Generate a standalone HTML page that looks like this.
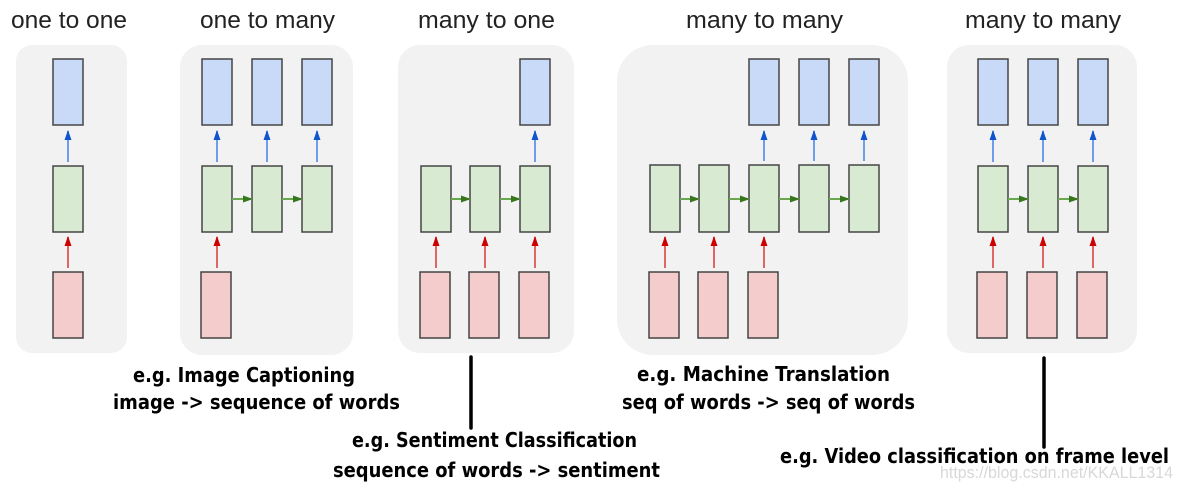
<!DOCTYPE html>
<html><head><meta charset="utf-8"><style>
html,body{margin:0;padding:0;background:#fff}
svg{display:block}
.t{font-family:"Liberation Sans",Arial,sans-serif;font-size:24px;fill:#222}
.b{font-family:"DejaVu Sans","Liberation Sans",sans-serif;font-weight:bold;font-size:20px;fill:#000}
.bl{fill:#c9daf8;stroke:#444;stroke-width:1.5}
.gr{fill:#d9ead3;stroke:#444;stroke-width:1.5}
.rd{fill:#f4cccc;stroke:#444;stroke-width:1.5}
.pa{fill:#f2f2f2}
</style></head><body>
<svg width="1181" height="493" viewBox="0 0 1181 493" xmlns="http://www.w3.org/2000/svg">
<defs>
<marker id="ab" markerWidth="10" markerHeight="8" refX="9" refY="4" orient="auto" markerUnits="userSpaceOnUse"><path d="M0,0.5 L10,4 L0,7.5 z" fill="#1155cc"/></marker>
<marker id="ar" markerWidth="10" markerHeight="8" refX="9" refY="4" orient="auto" markerUnits="userSpaceOnUse"><path d="M0,0.5 L10,4 L0,7.5 z" fill="#cc0000"/></marker>
<marker id="ag" markerWidth="10" markerHeight="8" refX="9" refY="4" orient="auto" markerUnits="userSpaceOnUse"><path d="M0,0.5 L10,4 L0,7.5 z" fill="#38761d"/></marker>
</defs>
<style>
.lb{stroke:#6d9eeb;stroke-width:2;fill:none}
.lr{stroke:#e06666;stroke-width:2;fill:none}
.lg{stroke:#6aa84f;stroke-width:2;fill:none}
</style>
<!-- titles -->
<text class="t" x="11" y="28" textLength="116" lengthAdjust="spacingAndGlyphs">one to one</text>
<text class="t" x="200" y="28" textLength="135" lengthAdjust="spacingAndGlyphs">one to many</text>
<text class="t" x="418" y="28" textLength="137" lengthAdjust="spacingAndGlyphs">many to one</text>
<text class="t" x="686" y="28" textLength="157" lengthAdjust="spacingAndGlyphs">many to many</text>
<text class="t" x="965" y="28" textLength="156" lengthAdjust="spacingAndGlyphs">many to many</text>
<!-- panels -->
<rect class="pa" x="16" y="45" width="111" height="308" rx="16"/>
<rect class="pa" x="180" y="45" width="173" height="310" rx="22"/>
<rect class="pa" x="398" y="45" width="176" height="308" rx="22"/>
<rect class="pa" x="617" y="45" width="291" height="310" rx="36"/>
<rect class="pa" x="947" y="45" width="190" height="308" rx="22"/>

<!-- panel 1 -->
<rect class="bl" x="53" y="59" width="30" height="66"/>
<rect class="gr" x="53" y="166" width="30" height="66"/>
<rect class="rd" x="53" y="272" width="30" height="66"/>
<line class="lb" x1="68" y1="162" x2="68" y2="131" marker-end="url(#ab)"/>
<line class="lr" x1="68" y1="268" x2="68" y2="237" marker-end="url(#ar)"/>

<!-- panel 2 -->
<rect class="bl" x="202" y="59" width="30" height="66"/>
<rect class="bl" x="252" y="59" width="30" height="66"/>
<rect class="bl" x="302" y="59" width="30" height="66"/>
<rect class="gr" x="202" y="166" width="30" height="66"/>
<rect class="gr" x="252" y="166" width="30" height="66"/>
<rect class="gr" x="302" y="166" width="30" height="66"/>
<rect class="rd" x="201" y="272" width="30" height="66"/>
<line class="lb" x1="217" y1="162" x2="217" y2="131" marker-end="url(#ab)"/>
<line class="lb" x1="267" y1="162" x2="267" y2="131" marker-end="url(#ab)"/>
<line class="lb" x1="317" y1="162" x2="317" y2="131" marker-end="url(#ab)"/>
<line class="lr" x1="217" y1="268" x2="217" y2="237" marker-end="url(#ar)"/>
<line class="lg" x1="232" y1="199" x2="252" y2="199" marker-end="url(#ag)"/>
<line class="lg" x1="282" y1="199" x2="302" y2="199" marker-end="url(#ag)"/>

<!-- panel 3 -->
<rect class="bl" x="520" y="59" width="30" height="66"/>
<rect class="gr" x="421" y="166" width="30" height="66"/>
<rect class="gr" x="470" y="166" width="30" height="66"/>
<rect class="gr" x="520" y="166" width="30" height="66"/>
<rect class="rd" x="420" y="272" width="30" height="66"/>
<rect class="rd" x="469" y="272" width="30" height="66"/>
<rect class="rd" x="519" y="272" width="30" height="66"/>
<line class="lb" x1="535" y1="162" x2="535" y2="131" marker-end="url(#ab)"/>
<line class="lr" x1="436" y1="268" x2="436" y2="237" marker-end="url(#ar)"/>
<line class="lr" x1="485" y1="268" x2="485" y2="237" marker-end="url(#ar)"/>
<line class="lr" x1="535" y1="268" x2="535" y2="237" marker-end="url(#ar)"/>
<line class="lg" x1="451" y1="199" x2="470" y2="199" marker-end="url(#ag)"/>
<line class="lg" x1="500" y1="199" x2="520" y2="199" marker-end="url(#ag)"/>

<!-- panel 4 -->
<rect class="bl" x="749" y="59" width="30" height="66"/>
<rect class="bl" x="799" y="59" width="30" height="66"/>
<rect class="bl" x="849" y="59" width="30" height="66"/>
<rect class="gr" x="650" y="165" width="30" height="67"/>
<rect class="gr" x="699" y="165" width="30" height="67"/>
<rect class="gr" x="749" y="165" width="30" height="67"/>
<rect class="gr" x="799" y="165" width="30" height="67"/>
<rect class="gr" x="849" y="165" width="30" height="67"/>
<rect class="rd" x="649" y="272" width="30" height="66"/>
<rect class="rd" x="698" y="272" width="30" height="66"/>
<rect class="rd" x="748" y="272" width="30" height="66"/>
<line class="lb" x1="764" y1="161" x2="764" y2="131" marker-end="url(#ab)"/>
<line class="lb" x1="814" y1="161" x2="814" y2="131" marker-end="url(#ab)"/>
<line class="lb" x1="864" y1="161" x2="864" y2="131" marker-end="url(#ab)"/>
<line class="lr" x1="665" y1="268" x2="665" y2="237" marker-end="url(#ar)"/>
<line class="lr" x1="714" y1="268" x2="714" y2="237" marker-end="url(#ar)"/>
<line class="lr" x1="764" y1="268" x2="764" y2="237" marker-end="url(#ar)"/>
<line class="lg" x1="680" y1="199" x2="699" y2="199" marker-end="url(#ag)"/>
<line class="lg" x1="729" y1="199" x2="749" y2="199" marker-end="url(#ag)"/>
<line class="lg" x1="779" y1="199" x2="799" y2="199" marker-end="url(#ag)"/>
<line class="lg" x1="829" y1="199" x2="849" y2="199" marker-end="url(#ag)"/>

<!-- panel 5 -->
<rect class="bl" x="978" y="59" width="30" height="66"/>
<rect class="bl" x="1028" y="59" width="30" height="66"/>
<rect class="bl" x="1078" y="59" width="30" height="66"/>
<rect class="gr" x="978" y="166" width="30" height="66"/>
<rect class="gr" x="1028" y="166" width="30" height="66"/>
<rect class="gr" x="1078" y="166" width="30" height="66"/>
<rect class="rd" x="977" y="272" width="30" height="66"/>
<rect class="rd" x="1027" y="272" width="30" height="66"/>
<rect class="rd" x="1077" y="272" width="30" height="66"/>
<line class="lb" x1="993" y1="162" x2="993" y2="131" marker-end="url(#ab)"/>
<line class="lb" x1="1043" y1="162" x2="1043" y2="131" marker-end="url(#ab)"/>
<line class="lb" x1="1093" y1="162" x2="1093" y2="131" marker-end="url(#ab)"/>
<line class="lr" x1="993" y1="268" x2="993" y2="237" marker-end="url(#ar)"/>
<line class="lr" x1="1043" y1="268" x2="1043" y2="237" marker-end="url(#ar)"/>
<line class="lr" x1="1093" y1="268" x2="1093" y2="237" marker-end="url(#ar)"/>
<line class="lg" x1="1008" y1="199" x2="1028" y2="199" marker-end="url(#ag)"/>
<line class="lg" x1="1058" y1="199" x2="1078" y2="199" marker-end="url(#ag)"/>

<!-- black pointers -->
<line x1="471" y1="357" x2="471" y2="428" stroke="#000" stroke-width="3.5" stroke-linecap="round"/>
<line x1="1044" y1="358" x2="1044" y2="447" stroke="#000" stroke-width="3.5" stroke-linecap="round"/>

<!-- captions -->
<text class="b" x="133" y="382" textLength="222" lengthAdjust="spacingAndGlyphs">e.g. Image Captioning</text>
<text class="b" x="113" y="409" textLength="287" lengthAdjust="spacingAndGlyphs">image -&gt; sequence of words</text>
<text class="b" x="352" y="447" textLength="285" lengthAdjust="spacingAndGlyphs">e.g. Sentiment Classification</text>
<text class="b" x="333" y="477" textLength="327" lengthAdjust="spacingAndGlyphs">sequence of words -&gt; sentiment</text>
<text class="b" x="637" y="381" textLength="253" lengthAdjust="spacingAndGlyphs">e.g.  Machine Translation</text>
<text class="b" x="622" y="409" textLength="293" lengthAdjust="spacingAndGlyphs">seq of words -&gt; seq of words</text>
<text class="b" x="780" y="463" textLength="389" lengthAdjust="spacingAndGlyphs">e.g. Video classification on frame level</text>
<text x="940" y="478" textLength="233" lengthAdjust="spacingAndGlyphs" font-family="Liberation Sans,Arial,sans-serif" font-size="17" fill="#d8d8d8">https://blog.csdn.net/KKALL1314</text>
</svg>
</body></html>
